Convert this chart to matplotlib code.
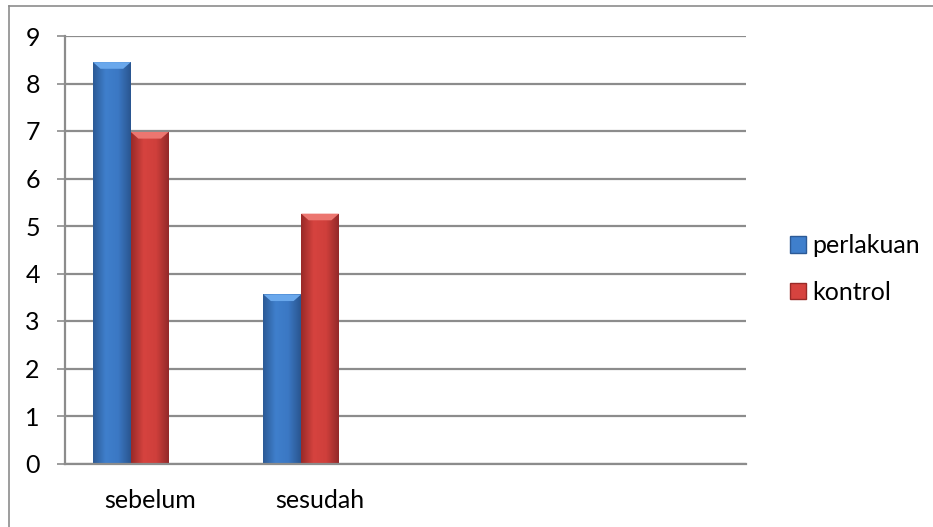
import numpy as np
import matplotlib
matplotlib.use("Agg")
import matplotlib.pyplot as plt
from matplotlib.colors import LinearSegmentedColormap
from matplotlib.patches import Patch, Polygon
from matplotlib.lines import Line2D

plt.rcParams['font.family'] = ['Lato', 'DejaVu Sans']

# data
categories = ['sebelum', 'sesudah', '', '']
series_names = ['perlakuan', 'kontrol']
perlakuan = [8.45, 3.56, np.nan, np.nan]
kontrol = [6.98, 5.26, np.nan, np.nan]

blue_cols = ['#2c5a96', '#3f7fcc', '#3b78c4', '#2a5690']
red_cols = ['#992a28', '#d6433f', '#cf3f3b', '#93292a']
blue_top = '#6aa8ec'
red_top = '#ec7670'

fig = plt.figure(figsize=(9.33, 5.27), dpi=100)
ax = fig.add_axes([64.5 / 933, 1 - 463.5 / 527, (746 - 64.5) / 933, (463.5 - 36) / 527])

x = np.arange(len(categories))
w = 0.222
grid_c = '#8c8c8c'


def shade(ax, bars, cols, top_col):
    cmap = LinearSegmentedColormap.from_list('g', cols)
    grad = np.linspace(0, 1, 64).reshape(1, -1)
    for b in bars:
        h = b.get_height()
        if not np.isfinite(h) or h <= 0:
            continue
        x0, bw = b.get_x(), b.get_width()
        im = ax.imshow(grad, cmap=cmap, extent=(x0, x0 + bw, 0, h),
                       aspect='auto', zorder=3, interpolation='bicubic')
        im.set_clip_path(b)
        # bevel on top
        bev = 0.14
        inset = bw * 0.2
        poly = Polygon([(x0, h), (x0 + bw, h), (x0 + bw - inset, h - bev),
                        (x0 + inset, h - bev)], closed=True,
                       facecolor=top_col, edgecolor='none', zorder=4)
        ax.add_patch(poly)


# third (empty) series slot keeps kontrol centred on the category
b1 = ax.bar(x - 1.5 * w, perlakuan, w, align='edge', color=blue_cols[1], zorder=2)
b2 = ax.bar(x - 0.5 * w, kontrol, w, align='edge', color=red_cols[1], zorder=2)
shade(ax, b1, blue_cols, blue_top)
shade(ax, b2, red_cols, red_top)

ax.set_xlim(-0.5, len(categories) - 0.5)
ax.set_ylim(0, 9)
ax.set_yticks(range(0, 10))
ax.set_xticks(x)
ax.set_xticklabels(categories)
ax.yaxis.grid(True, color=grid_c, linewidth=1.6, zorder=0)
ax.set_axisbelow(True)

for s in ['top', 'right']:
    ax.spines[s].set_visible(False)
ax.spines['left'].set_color(grid_c)
ax.spines['left'].set_linewidth(1.6)
ax.spines['bottom'].set_color(grid_c)
ax.spines['bottom'].set_linewidth(1.6)
ax.spines['bottom'].set_zorder(5)

ax.tick_params(axis='y', length=5.8, width=1.2, color=grid_c, pad=12,
               labelsize=18, labelcolor='black')
ax.tick_params(axis='x', length=0, pad=18, labelsize=18, labelcolor='black')

handles = [Patch(facecolor=blue_cols[1], edgecolor=blue_cols[0]),
           Patch(facecolor=red_cols[1], edgecolor=red_cols[0])]
fig.legend(handles, series_names, loc='center left',
           bbox_to_anchor=(767 / 933, 1 - 269 / 527), frameon=False,
           fontsize=18, handlelength=0.64, handleheight=0.64,
           handletextpad=0.25, labelspacing=0.95)

# outer chart border (cropped: only top and left are visible)
fig.add_artist(Line2D([9 / 933, 1], [1 - 6 / 527] * 2, color=grid_c, lw=1.2))
fig.add_artist(Line2D([9 / 933] * 2, [0, 1 - 6 / 527], color=grid_c, lw=1.2))

fig.savefig('out.png', dpi=100)
